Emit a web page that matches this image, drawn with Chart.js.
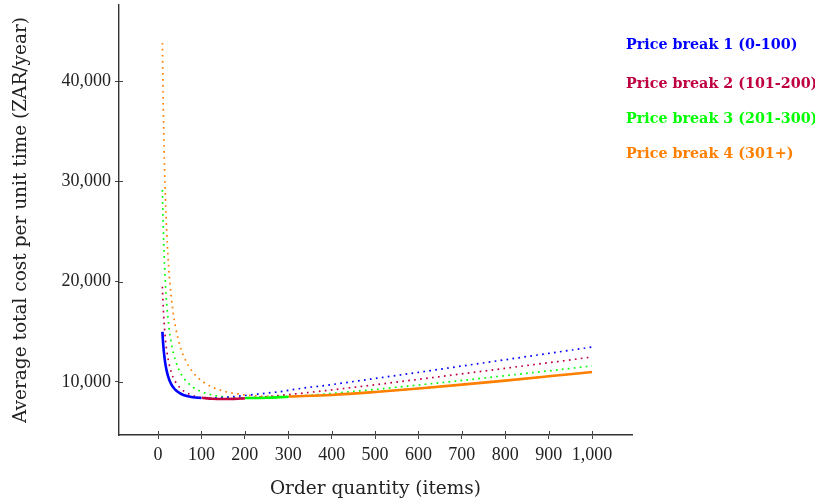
<!DOCTYPE html>
<html>
<head>
<meta charset="utf-8">
<script src="https://cdn.jsdelivr.net/npm/chart.js@4.4.1/dist/chart.umd.min.js"></script>
<style>
  html, body { margin: 0; padding: 0; background: #fff; }
  #wrap { position: relative; width: 815px; height: 504px; }
  .leg {
    position: absolute; left: 626px;
    font: bold 14.3px "DejaVu Serif", serif;
    white-space: nowrap; line-height: 18px;
  }
</style>
</head>
<body>
<div id="wrap">
  <canvas id="chart" width="815" height="504"></canvas>
  <div id="legend"></div>
</div>
<script>
"use strict";

// ── Data ────────────────────────────────────────────────────────────────────
const ORDER_QTY = [10, 11, 12, 13, 15, 17, 20, 25, 30, 35, 40, 50, 60, 80, 100, 101,
  125, 150, 175, 200, 201, 250, 300, 301, 400, 500, 600, 700, 800, 900, 1000];

const COST_PB1 = [15000, 14280, 13680, 13180, 12380, 11760, 11080, 10310, 9810, 9470, 9210,
  8880, 8680, 8480, 8405, 8403, 8407, 8460, 8550, 8650, 8656, 8890, 9160, 9170, 9740, 10350,
  10960, 11590, 12220, 12850, 13490];
const COST_PB2 = [19500, 18340, 17370, 16550, 15240, 14240, 13120, 11870, 11040, 10450, 10020,
  9440, 9070, 8650, 8440, 8430, 8330, 8300, 8320, 8370, 8377, 8540, 8740, 8744, 9210, 9725,
  10260, 10810, 11365, 11925, 12490];
const COST_PB3 = [29140, 27070, 25340, 23880, 21550, 19760, 17760, 15500, 14000, 12940, 12150,
  11060, 10350, 9500, 9030, 9010, 8700, 8520, 8434, 8400, 8399, 8430, 8533, 8535, 8860, 9260,
  9700, 10155, 10630, 11110, 11600];
const COST_PB4 = [43800, 40360, 37490, 35070, 31190, 28230, 24900, 21135, 18630, 16850, 15520,
  13675, 12460, 10980, 10120, 10090, 9485, 9100, 8857, 8706, 8700, 8565, 8550, 8551, 8710,
  9000, 9350, 9733, 10140, 10566, 11000];

const SERIES_NAMES = ["Price break 1 (0-100)", "Price break 2 (101-200)",
  "Price break 3 (201-300)", "Price break 4 (301+)"];
const SERIES_COSTS = [COST_PB1, COST_PB2, COST_PB3, COST_PB4];
const VALID_FROM = [10, 101, 201, 301];
const VALID_TO = [100, 200, 300, 1000];

const X_TICKS = [0, 100, 200, 300, 400, 500, 600, 700, 800, 900, 1000];
const Y_TICKS = [10000, 20000, 30000, 40000];

// ── Styling ─────────────────────────────────────────────────────────────────
const COLORS = ["#0000ff", "#bf0040", "#00ff00", "#ff8000"];
const LEGEND_TOP = [35, 74, 109, 144];
const TICK_FONT = "'Liberation Serif', serif";
const TITLE_FONT = "'DejaVu Serif', serif";
const INK = "#222";

function pts(costs, lo, hi) {
  const out = [];
  ORDER_QTY.forEach((q, i) => {
    if (q >= lo && q <= hi) out.push({ x: q, y: costs[i] });
  });
  return out;
}

function fmtNum(v) {
  return Number(v).toLocaleString("en-US");
}

// ── Datasets: dotted over the full range, solid over the valid range ────────
const datasets = [];
SERIES_COSTS.forEach((costs, i) => {
  datasets.push({
    label: SERIES_NAMES[i] + " (full)",
    data: pts(costs, 0, 1000),
    borderColor: COLORS[i],
    borderWidth: 1.7,
    borderDash: [1.7, 4.3],
    pointRadius: 0,
    cubicInterpolationMode: "monotone",
    order: 2,
  });
  datasets.push({
    label: SERIES_NAMES[i],
    data: pts(costs, VALID_FROM[i], VALID_TO[i]),
    borderColor: COLORS[i],
    borderWidth: 2.6,
    pointRadius: 0,
    cubicInterpolationMode: "monotone",
    order: 1,
  });
});

// inner half of the pgf-style tick marks
const innerTicks = {
  id: "innerTicks",
  afterDraw(chart) {
    const { ctx, chartArea, scales } = chart;
    ctx.save();
    ctx.strokeStyle = "#444";
    ctx.lineWidth = 1;
    X_TICKS.forEach(v => {
      const x = Math.round(scales.x.getPixelForValue(v)) + 0.5;
      ctx.beginPath();
      ctx.moveTo(x, chartArea.bottom);
      ctx.lineTo(x, chartArea.bottom - 4);
      ctx.stroke();
    });
    Y_TICKS.forEach(v => {
      const y = Math.round(scales.y.getPixelForValue(v)) + 0.5;
      ctx.beginPath();
      ctx.moveTo(chartArea.left, y);
      ctx.lineTo(chartArea.left + 4, y);
      ctx.stroke();
    });
    ctx.restore();
  },
};

new Chart(document.getElementById("chart"), {
  type: "line",
  data: { datasets },
  options: {
    responsive: false,
    animation: false,
    layout: { padding: { top: 5, right: 183, left: 0, bottom: 0 } },
    plugins: { legend: { display: false }, tooltip: { enabled: false } },
    scales: {
      x: {
        type: "linear",
        min: -90,
        max: 1092,
        afterFit: s => { s.height = 69; s.paddingLeft = 0; s.paddingRight = 0; },
        afterBuildTicks: s => { s.ticks = X_TICKS.map(v => ({ value: v })); },
        grid: { drawOnChartArea: false, drawTicks: true, tickLength: 4, color: "#444" },
        border: { display: true, color: "#333", width: 1.4 },
        ticks: {
          color: INK, padding: 5, maxRotation: 0, autoSkip: false,
          font: { family: TICK_FONT, size: 18 },
          callback: v => fmtNum(v),
        },
        title: {
          display: true, text: "Order quantity (items)", color: INK,
          font: { family: TITLE_FONT, size: 18.5 }, padding: { top: 7 },
        },
      },
      y: {
        type: "linear",
        min: 4716,
        max: 47577,
        afterFit: s => { s.width = 119; s.paddingTop = 0; s.paddingBottom = 0; },
        afterBuildTicks: s => { s.ticks = Y_TICKS.map(v => ({ value: v })); },
        grid: { drawOnChartArea: false, drawTicks: true, tickLength: 4, color: "#444" },
        border: { display: true, color: "#333", width: 1.4 },
        ticks: {
          color: INK, padding: 4,
          font: { family: TICK_FONT, size: 18 },
          callback: v => fmtNum(v),
        },
        title: {
          display: true, text: "Average total cost per unit time (ZAR/year)", color: INK,
          font: { family: TITLE_FONT, size: 18.5 }, padding: { top: 10, bottom: 0 },
        },
      },
    },
  },
  plugins: [innerTicks],
});

// ── Legend as plain text on the right ───────────────────────────────────────
const legend = document.getElementById("legend");
SERIES_NAMES.forEach((name, i) => {
  const d = document.createElement("div");
  d.className = "leg";
  d.style.top = LEGEND_TOP[i] + "px";
  d.style.color = COLORS[i];
  d.textContent = name;
  legend.appendChild(d);
});
</script>
</body>
</html>
